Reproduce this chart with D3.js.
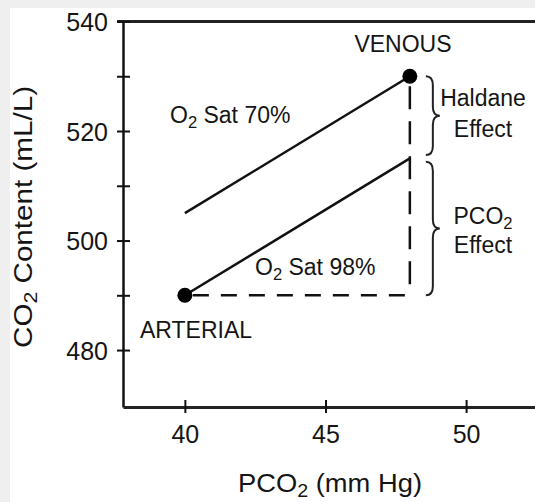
<!DOCTYPE html>
<html>
<head>
<meta charset="utf-8">
<script src="https://cdn.jsdelivr.net/npm/d3@7"></script>
<style>
  body { margin: 0; background: #efefef; }
  svg { display: block; }
  text { font-family: "Liberation Sans", Arial, Helvetica, sans-serif; fill: #151515; }
</style>
</head>
<body>
<script>
// data
var pco2 = [40, 48];            // arterial -> venous PCO2 (mm Hg)
var sat98 = [490, 515];         // CO2 content along O2 Sat 98% line
var sat70 = [505, 530];         // CO2 content along O2 Sat 70% line
var arterial = [40, 490];
var venous = [48, 530];
var xTicks = [40, 45, 50];
var yTicks = [480, 490, 500, 510, 520, 530, 540];
var yLabels = [480, 500, 520, 540];

var width = 535, height = 502;
var svg = d3.select('body').append('svg')
  .attr('width', width).attr('height', height);

// white panel
svg.append('rect').attr('x', 10).attr('y', 8)
  .attr('width', width - 10).attr('height', height - 8).attr('fill', '#fff');

var x = d3.scaleLinear().domain([37.8, 52.45]).range([123, 535]);
var y = d3.scaleLinear().domain([469.6, 540]).range([407, 21.5]);

// frame top line
svg.append('line')
  .attr('x1', 117).attr('x2', 535)
  .attr('y1', y(540)).attr('y2', y(540))
  .attr('stroke', '#222').attr('stroke-width', 3);

// y axis
var yAxis = svg.append('g')
  .attr('transform', 'translate(' + x(37.8) + ',0)')
  .call(d3.axisLeft(y).tickValues(yTicks).tickSizeOuter(0)
    .tickFormat(function(d) { return yLabels.indexOf(d) >= 0 ? d : ''; }));
yAxis.select('.domain').attr('stroke', '#111').attr('stroke-width', 2.5);
yAxis.selectAll('.tick line').attr('x1', 7).attr('x2', -6)
  .attr('stroke', '#111').attr('stroke-width', 2);
yAxis.selectAll('.tick text')
  .filter(function(d) { return yLabels.indexOf(d) < 0; }).remove();
yAxis.selectAll('.tick text')
  .attr('x', -15).attr('dy', '0.36em')
  .style('font-size', '25px').attr('fill', '#151515');

// x axis
var xAxis = svg.append('g')
  .attr('transform', 'translate(0,' + y(469.6) + ')')
  .call(d3.axisBottom(x).tickValues(xTicks).tickSizeOuter(0));
xAxis.select('.domain').attr('stroke', '#222').attr('stroke-width', 3);
xAxis.selectAll('.tick line').attr('y1', -7).attr('y2', 6)
  .attr('stroke', '#111').attr('stroke-width', 2);
xAxis.selectAll('.tick text')
  .attr('y', 36).attr('dy', 0)
  .style('font-size', '25px').attr('fill', '#151515');

var line = d3.line()
  .x(function(d) { return x(d[0]); })
  .y(function(d) { return y(d[1]); });

// dashed guides
svg.append('path')
  .datum([arterial, [venous[0], arterial[1]]])
  .attr('d', line)
  .attr('fill', 'none').attr('stroke', '#111').attr('stroke-width', 2.5)
  .attr('stroke-dasharray', '16,12').attr('stroke-dashoffset', -8);
svg.append('path')
  .datum([venous, [venous[0], arterial[1]]])
  .attr('d', line)
  .attr('fill', 'none').attr('stroke', '#111').attr('stroke-width', 2.5)
  .attr('stroke-dasharray', '23,12').attr('stroke-dashoffset', -10);

// saturation lines
svg.append('path')
  .datum(pco2.map(function(p, i) { return [p, sat98[i]]; }))
  .attr('d', line)
  .attr('fill', 'none').attr('stroke', '#111').attr('stroke-width', 2.5);
svg.append('path')
  .datum(pco2.map(function(p, i) { return [p, sat70[i]]; }))
  .attr('d', line)
  .attr('fill', 'none').attr('stroke', '#111').attr('stroke-width', 2.5);

// points
svg.selectAll('circle.pt')
  .data([arterial, venous])
  .enter().append('circle')
  .attr('class', 'pt')
  .attr('cx', function(d) { return x(d[0]); })
  .attr('cy', function(d) { return y(d[1]); })
  .attr('r', 7.5)
  .attr('fill', '#000');

// curly braces
function brace(x0, y1, y2, w) {
  var ym = (y1 + y2) / 2, xm = x0 + w * 0.5, q = 9;
  return 'M' + x0 + ',' + y1 +
    'Q' + xm + ',' + y1 + ' ' + xm + ',' + (y1 + q) +
    'L' + xm + ',' + (ym - q) +
    'Q' + xm + ',' + ym + ' ' + (x0 + w) + ',' + ym +
    'Q' + xm + ',' + ym + ' ' + xm + ',' + (ym + q) +
    'L' + xm + ',' + (y2 - q) +
    'Q' + xm + ',' + y2 + ' ' + x0 + ',' + y2;
}
svg.append('path')
  .attr('d', brace(x(venous[0]) + 16, y(530), y(515.6), 14))
  .attr('fill', 'none').attr('stroke', '#222').attr('stroke-width', 2);
svg.append('path')
  .attr('d', brace(x(venous[0]) + 16, y(514.4), y(490), 14))
  .attr('fill', 'none').attr('stroke', '#222').attr('stroke-width', 2);

// labels; parts are plain strings or ['2'] for a subscript
function label(tx, ty, parts, anchor, size) {
  var t = svg.append('text')
    .attr('x', tx).attr('y', ty)
    .attr('text-anchor', anchor || 'start')
    .style('font-size', (size || 23) + 'px');
  var shift = 0;
  parts.forEach(function(p) {
    if (typeof p === 'string') {
      t.append('tspan').attr('dy', -shift).text(p);
      shift = 0;
    } else {
      shift = 5;
      t.append('tspan').attr('dy', shift).style('font-size', '0.72em').text(p[0]);
    }
  });
  return t;
}
label(403, 52, ['VENOUS'], 'middle');
label(140, 338, ['ARTERIAL']);
label(170, 123, ['O', ['2'], ' Sat 70%']);
label(255, 275, ['O', ['2'], ' Sat 98%']);
label(483, 106, ['Haldane'], 'middle');
label(483, 137, ['Effect'], 'middle');
label(483, 224, ['PCO', ['2']], 'middle');
label(483, 253, ['Effect'], 'middle');

// axis titles
label(330, 492, ['PCO', ['2'], ' (mm Hg)'], 'middle', 25)
  .attr('textLength', 184).attr('lengthAdjust', 'spacingAndGlyphs');
label(0, 0, ['CO', ['2'], ' Content (mL/L)'], 'middle', 25)
  .attr('transform', 'translate(32,217) rotate(-90)')
  .attr('textLength', 262).attr('lengthAdjust', 'spacingAndGlyphs');
</script>
</body>
</html>
